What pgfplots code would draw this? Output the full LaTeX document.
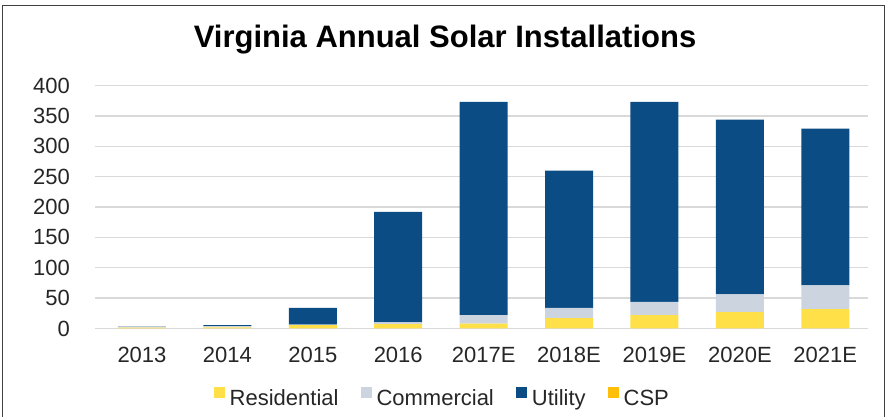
\documentclass[border=0pt]{standalone}
\usepackage{pgfplots}
\pgfplotsset{compat=1.18}
\usepackage{fontspec}
\setmainfont{Liberation Sans}
\definecolor{resC}{RGB}{255,224,72}
\definecolor{comC}{RGB}{204,212,224}
\definecolor{utiC}{RGB}{11,76,132}
\definecolor{cspC}{RGB}{255,190,10}
\definecolor{gridC}{RGB}{217,217,217}
\begin{document}
\begin{tikzpicture}
\path[use as bounding box] (0pt,0pt) rectangle (886pt,417pt);
\draw[line width=1.4pt, black!75] (2.3pt,0pt) -- (2.3pt,411.3pt) -- (884.5pt,411.3pt) -- (884.5pt,0pt);
\node[anchor=base, font=\bfseries\fontsize{31}{36}\selectfont, inner sep=0pt] at (445pt,369pt) {Virginia Annual Solar Installations};
\begin{axis}[
  at={(95pt,88.5pt)}, anchor=south west,
  scale only axis, width=773pt, height=243pt,
  ybar stacked, bar width=48pt,
  xmin=-0.55, xmax=8.5, ymin=0, ymax=400,
  xtick={0,...,8},
  xticklabels={2013,2014,2015,2016,2017E,2018E,2019E,2020E,2021E},
  ytick={0,50,...,400},
  ymajorgrids, grid style={gridC, line width=1.3pt},
  axis line style={draw=none}, major tick style={draw=none},
  /pgf/number format/assume math mode=true,
  tick label style={font=\fontsize{22}{26}\selectfont, text=black!85},
  xticklabel style={inner sep=0pt, yshift=-18.5pt},
  yticklabel style={inner sep=0pt, xshift=-25pt},
  legend image code/.code={\fill[#1] (0pt,0pt) rectangle (11pt,11pt);},
  legend columns=4,
  legend style={draw=none, fill=none, at={(0.448,-0.282)}, anchor=center,
    font=\fontsize{22}{26}\selectfont, text=black!85,
    /tikz/every even column/.append style={column sep=22pt},
    /tikz/every odd column/.append style={column sep=5pt},
    nodes={inner sep=0pt}},
]
\addplot[fill=resC, draw=none] coordinates {(0,1.5) (1,2) (2,5.5) (3,7) (4,8) (5,17) (6,22) (7,27) (8,32)};
\addplot[fill=comC, draw=none] coordinates {(0,1.5) (1,2) (2,1) (3,3) (4,14) (5,17) (6,22) (7,29) (8,39)};
\addplot[fill=utiC, draw=none] coordinates {(0,0.5) (1,1.5) (2,27.5) (3,182) (4,351) (5,226) (6,329) (7,288) (8,258)};
\addplot[fill=cspC, draw=none] coordinates {(0,0) (1,0) (2,0) (3,0) (4,0) (5,0) (6,0) (7,0) (8,0)};
\legend{Residential, Commercial, Utility, CSP}
\end{axis}
\end{tikzpicture}
\end{document}
